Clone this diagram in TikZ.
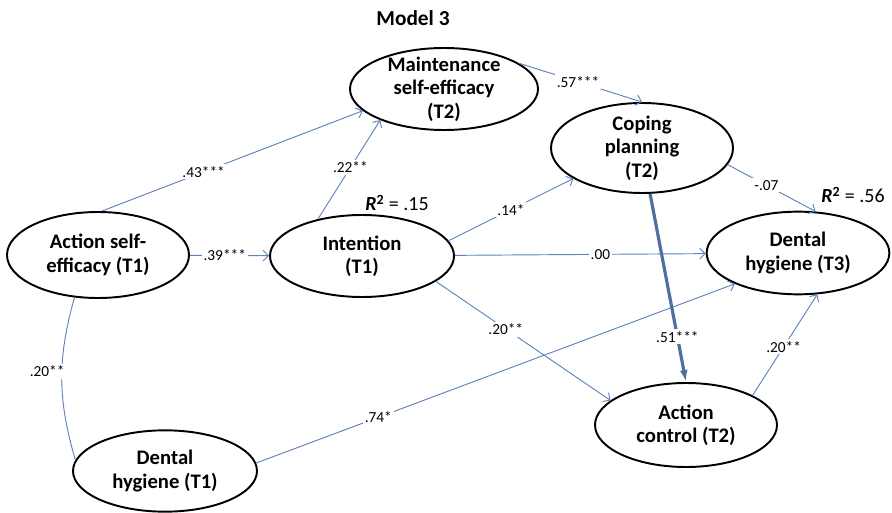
\documentclass[tikz,border=0pt]{standalone}
\usepackage{fontspec}
\setmainfont{Carlito}
\usepackage{xcolor}
\usepackage{tikz}
\usetikzlibrary{arrows.meta, shapes.geometric, positioning}
\definecolor{linkblue}{RGB}{94,131,189}
\begin{document}
\begin{tikzpicture}[x=0.75pt, y=-0.75pt,
    var/.style={draw, ellipse, line width=1.45pt, inner sep=0pt},
    txt/.style={align=center, font=\fontsize{15.5}{17.5}\selectfont\bfseries},
    corr/.style={draw=linkblue, line width=0.7pt},
    link/.style={corr, -{Straight Barb[length=4pt, width=8pt]}},
    strong/.style={draw=linkblue!85!black, line width=2.4pt, -{Latex[length=9pt, width=6pt]}},
    coef/.style={fill=white, inner sep=1.5pt, font=\fontsize{11.5}{13}\selectfont},
    rsq/.style={font=\fontsize{15}{18}\selectfont}]
                \useasboundingbox (0,0) rectangle (892,513);
                \node[font=\fontsize{16}{19}\selectfont\bfseries] (title) at (413,18) {Model 3};
                \node[var, minimum width=141pt, minimum height=61.5pt,
                    label={[txt]center:{Maintenance\\self-efficacy\\(T2)}}] (maint) at (444,89) {};
                \node[var, minimum width=136.5pt, minimum height=67.5pt,
                    label={[txt]center:{Coping\\planning\\(T2)}}] (coping) at (642,148) {};
                \node[var, minimum width=136.5pt, minimum height=64.5pt,
                    label={[txt]center:{Action self-\\efficacy (T1)}}] (ase) at (98,255) {};
                \node[var, minimum width=138pt, minimum height=61.5pt,
                    label={[txt]center:{Intention\\(T1)}}] (int) at (362,256) {};
                \node[var, minimum width=137pt, minimum height=62pt,
                    label={[txt]center:{Dental\\hygiene (T3)}}] (dhthree) at (798,253) {};
                \node[var, minimum width=136.5pt, minimum height=63pt,
                    label={[txt]center:{Action\\control (T2)}}] (actctl) at (686,425) {};
                \node[var, minimum width=138pt, minimum height=61pt,
                    label={[txt]center:{Dental\\hygiene (T1)}}] (dhone) at (165,471) {};
                \node[rsq] (rint) at (397,203) {{\bfseries\itshape R}\textsuperscript{\bfseries 2} = .15};
                \node[rsq] (rdh) at (853,195) {{\bfseries\itshape R}\textsuperscript{\bfseries 2} = .56};
                \draw[link] (ase.85) -- node[coef, pos=0.39] {.43***} (maint.195);
                \draw[link] (ase) -- node[coef, pos=0.44] {.39***} (int);
                \draw[link] (int.140) -- node[coef, pos=0.52] {.22**} (maint.206);
                \draw[link] (maint.19) -- node[coef, pos=0.48] {.57***} (coping.90);
                \draw[link] (int.10) -- node[coef, pos=0.5] {.14*} (coping.204);
                \draw[link] (int) -- node[coef, pos=0.58] {.00} (dhthree);
                \draw[link] (int.-19) -- node[coef, pos=0.4] {.20**} (actctl.162);
                \draw[link] (coping.-11) -- node[coef, pos=0.44] {-.07} (dhthree.67);
                \draw[link] (dhone.5) -- node[coef, pos=0.255] {.74*} (dhthree.206);
                \draw[strong] (coping.-80) -- node[coef, pos=0.76] {.51***} (actctl.90);
                \draw[link] (actctl.24) -- node[coef, pos=0.48] {.20**} (dhthree.-65);
                \draw[corr] (ase.241) to[bend right=16]
                    node[coef, pos=0.45, xshift=-11pt] {.20**} (dhone.173);
            \end{tikzpicture}
\end{document}
